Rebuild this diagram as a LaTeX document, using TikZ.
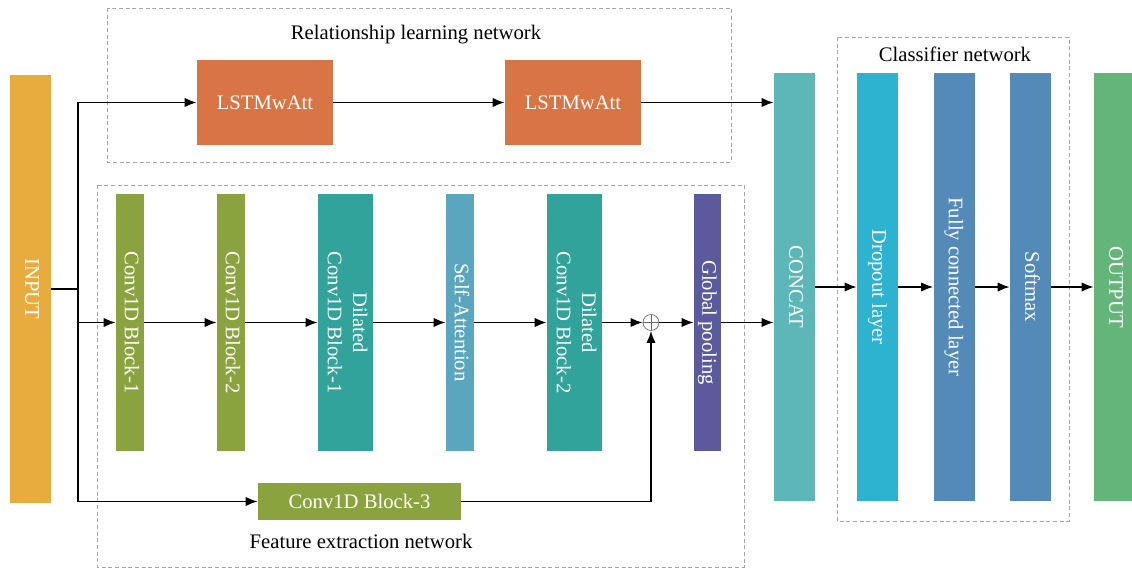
\documentclass[tikz,border=0pt]{standalone}
\usepackage{fontspec}
\setmainfont{Liberation Serif}
\usepackage{graphicx}
\usetikzlibrary{arrows.meta,positioning,calc}

\definecolor{inputcol}{HTML}{E8AC3E}
\definecolor{lstmcol}{HTML}{D97544}
\definecolor{convcol}{HTML}{8AA33F}
\definecolor{dilcol}{HTML}{31A39A}
\definecolor{attcol}{HTML}{5AA6BE}
\definecolor{poolcol}{HTML}{5A5A9C}
\definecolor{concatcol}{HTML}{5DB6B7}
\definecolor{dropcol}{HTML}{2DB2D0}
\definecolor{fccol}{HTML}{548AB8}
\definecolor{outcol}{HTML}{64B57A}

% vertical label, read from top to bottom
\newcommand{\vtext}[1]{\rotatebox{-90}{\begin{tabular}{@{}c@{}}#1\end{tabular}}}

\begin{document}
\begin{tikzpicture}[x=0.75pt, y=-0.75pt,
        every node/.style={font=\fontsize{15.5}{19}\selectfont},
        layer/.style={rectangle, fill=#1, text=white, inner sep=0pt},
        tall/.style={minimum width=30.75pt, minimum height=321pt},
        slim/.style={minimum width=21pt, minimum height=192.75pt},
        wide/.style={minimum width=41.25pt, minimum height=192.75pt},
        group/.style={draw=gray!70, dash pattern=on 3pt off 2pt, line width=0.5pt},
        sum/.style={circle, draw=gray!80!black, line width=0.5pt, minimum size=12pt, inner sep=0pt,
            path picture={\draw[gray!80!black, line width=0.5pt]
                (path picture bounding box.north) -- (path picture bounding box.south)
                (path picture bounding box.west) -- (path picture bounding box.east);}},
        arrow/.style={-{Latex[length=9pt,width=7pt]}, line width=1.3pt}]

    \useasboundingbox (0,0) rectangle (1132,570);

    % group frames
    \draw[group] (107,8) rectangle (731,162);
    \node at (416,35) {Relationship learning network};
    \draw[group] (97,185) rectangle (744,567);
    \node at (361,541) {Feature extraction network};
    \draw[group] (837,37) rectangle (1069,521);
    \node at (955,54) {Classifier network};

    % input
    \node[layer=inputcol, tall] (input) at (30.5,289) {\vtext{INPUT}};
    \coordinate (split) at (78,289);

    % relationship branch
    \node[layer=lstmcol, minimum width=102pt, minimum height=63.75pt] (lstma) at (265,102.5) {LSTMwAtt};
    \node[layer=lstmcol, minimum width=102pt, minimum height=63.75pt] (lstmb) at (573,102.5) {LSTMwAtt};

    % feature extraction branch
    \node[layer=convcol, slim] (conva) at (130,322.5) {\vtext{Conv1D Block-1}};
    \node[layer=convcol, slim] (convb) at (231,322.5) {\vtext{Conv1D Block-2}};
    \node[layer=dilcol, wide] (dila) at (345.5,322.5) {\vtext{Dilated\\Conv1D Block-1}};
    \node[layer=attcol, slim] (att) at (460,322.5) {\vtext{Self-Attention}};
    \node[layer=dilcol, wide] (dilb) at (574.5,322.5) {\vtext{Dilated\\Conv1D Block-2}};
    \node[sum] (add) at (651,322.5) {};
    \node[layer=poolcol, slim, minimum width=20.25pt] (pool) at (707.5,322.5) {\vtext{Global pooling}};
    \node[layer=convcol, minimum width=152.25pt, minimum height=27.75pt] (convc) at (359.5,501.5) {Conv1D Block-3};

    % classifier
    \node[layer=concatcol, tall] (concat) at (794.5,287) {\vtext{CONCAT}};
    \node[layer=dropcol, tall] (drop) at (877.5,287) {\vtext{Dropout layer}};
    \node[layer=fccol, tall] (fc) at (954,287) {\vtext{Fully connected layer}};
    \node[layer=fccol, tall] (soft) at (1030.5,287) {\vtext{Softmax}};
    \node[layer=outcol, tall] (output) at (1114.5,287) {\vtext{OUTPUT}};

    % connections
    \draw[line width=1.3pt] (input.east |- split) -- (split);
    \draw[arrow] (split) |- (lstma);
    \draw[arrow] (split) |- (convc);
    \draw[arrow] (split |- conva) -- (conva);
    \draw[arrow] (lstma) -- (lstmb);
    \draw[arrow] (lstmb) -- (lstmb -| concat.west);
    \draw[arrow] (conva) -- (convb);
    \draw[arrow] (convb) -- (dila);
    \draw[arrow] (dila) -- (att);
    \draw[arrow] (att) -- (dilb);
    \draw[arrow] (dilb) -- (add);
    \draw[arrow] (convc) -| (add);
    \draw[arrow] (add) -- (pool);
    \draw[arrow] (pool) -- (pool -| concat.west);
    \draw[arrow] (concat) -- (drop);
    \draw[arrow] (drop) -- (fc);
    \draw[arrow] (fc) -- (soft);
    \draw[arrow] (soft) -- (output);
\end{tikzpicture}
\end{document}
